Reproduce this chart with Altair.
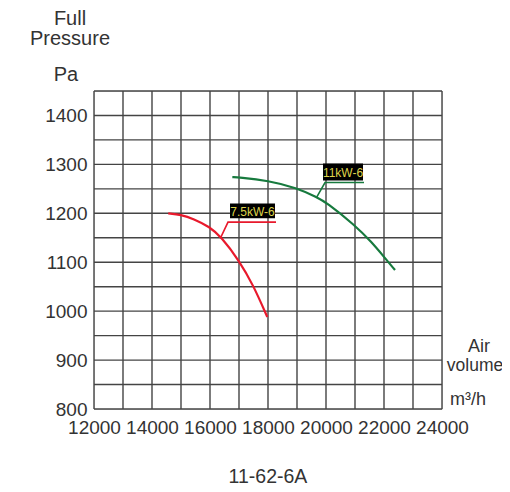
import altair as alt
import pandas as pd

# Curves
red_x = [14560, 15000, 15425, 16000, 16380, 17000, 17494, 17976]
red_y = [1200, 1197, 1189, 1172, 1152, 1104, 1053, 988]
green_x = [16770, 17000, 18000, 19000, 19680, 20000, 21000, 21575, 22000, 22380]
green_y = [1274, 1273.5, 1267, 1252, 1233, 1223, 1175.5, 1141, 1111, 1084]

# Label boxes
label_text = ["7.5kW-6", "11kW-6"]
label_x1 = [16690, 19897]
label_x2 = [18241, 21276]
label_y1 = [1190, 1267]
label_y2 = [1220, 1302]
# Leader lines (start on curve, knee, end of underline)
red_leader_x = [16380, 16621, 18276]
red_leader_y = [1152, 1182, 1182]
green_leader_x = [19680, 19966, 21310]
green_leader_y = [1233, 1263, 1263]

x_grid = list(range(12000, 24001, 1000))
y_grid = list(range(800, 1451, 50))
x_labels = list(range(12000, 24001, 2000))
y_labels = list(range(800, 1401, 100))

RED = "#e8192c"
GREEN = "#177a3e"
GRID = "#444444"
FONT = "Liberation Sans"
TXT = "#333333"

curves = pd.DataFrame(
    [{"x": a, "y": b, "s": "7.5kW-6", "o": i} for i, (a, b) in enumerate(zip(red_x, red_y))]
    + [{"x": a, "y": b, "s": "11kW-6", "o": i} for i, (a, b) in enumerate(zip(green_x, green_y))]
)
leaders = pd.DataFrame(
    [{"x": a, "y": b, "s": "7.5kW-6", "o": i} for i, (a, b) in enumerate(zip(red_leader_x, red_leader_y))]
    + [{"x": a, "y": b, "s": "11kW-6", "o": i} for i, (a, b) in enumerate(zip(green_leader_x, green_leader_y))]
)
boxes = pd.DataFrame({
    "t": label_text, "x1": label_x1, "x2": label_x2, "y1": label_y1, "y2": label_y2,
    "xc": [(a + b) / 2 for a, b in zip(label_x1, label_x2)],
    "yc": [(a + b) / 2 for a, b in zip(label_y1, label_y2)],
})

xscale = alt.Scale(domain=[12000, 24000], nice=False, zero=False)
yscale = alt.Scale(domain=[800, 1450], nice=False, zero=False)

xaxis = alt.Axis(values=x_labels, format="d", title=None, grid=False,
                 ticks=False, domain=False, labelFont=FONT, labelFontSize=19,
                 labelColor=TXT, labelPadding=9, labelOverlap=False, labelFlush=False)
yaxis = alt.Axis(values=y_labels, format="d", title=None, grid=False,
                 ticks=False, domain=False, labelFont=FONT, labelFontSize=19,
                 labelColor=TXT, labelPadding=7, labelOverlap=False)

vgrid = alt.Chart(pd.DataFrame({"x": x_grid})).mark_rule(color=GRID, strokeWidth=1.4).encode(
    x=alt.X("x:Q", scale=xscale, axis=xaxis)
)
hgrid = alt.Chart(pd.DataFrame({"y": y_grid})).mark_rule(color=GRID, strokeWidth=1.4).encode(
    y=alt.Y("y:Q", scale=yscale, axis=yaxis)
)

color_scale = alt.Scale(domain=["7.5kW-6", "11kW-6"], range=[RED, GREEN])

lines = alt.Chart(curves).mark_line(strokeWidth=2.2, interpolate="basis").encode(
    x=alt.X("x:Q", scale=xscale),
    y=alt.Y("y:Q", scale=yscale),
    color=alt.Color("s:N", scale=color_scale, legend=None),
    order="o:Q",
)

leader_lines = alt.Chart(leaders).mark_line(strokeWidth=1.6).encode(
    x="x:Q", y="y:Q",
    color=alt.Color("s:N", scale=color_scale, legend=None),
    order="o:Q",
)

rects = alt.Chart(boxes).mark_rect(color="black").encode(
    x="x1:Q", x2="x2:Q", y="y1:Q", y2="y2:Q"
)
rect_text = alt.Chart(boxes).mark_text(
    font=FONT, fontSize=12, color="#ddd34a", baseline="middle", align="center", dy=1
).encode(x="xc:Q", y="yc:Q", text="t:N")

annot = pd.DataFrame({
    "t": ["Full", "Pressure", "Pa", "Air", "volume", "m³/h", "11-62-6A"],
    "px": [-24, -24, -28, 385, 381, 374, 174],
    "py": [-72, -52, -16, 256, 275, 309, 386],
    "fs": [20, 20, 20, 18, 17.5, 18, 19.5],
})
annots = []
for _, r in annot.iterrows():
    annots.append(
        alt.Chart(pd.DataFrame({"t": [r["t"]]})).mark_text(
            font=FONT, fontSize=float(r["fs"]),
            color=TXT, align="center", baseline="middle"
        ).encode(x=alt.value(float(r["px"])), y=alt.value(float(r["py"])), text="t:N")
    )

chart = alt.layer(vgrid, hgrid, lines, leader_lines, rects, rect_text, *annots).properties(
    width=348, height=318,
    autosize=alt.AutoSizeParams(type="none"),
    padding={"left": 86, "top": 83, "right": 60, "bottom": 78},
).configure_view(stroke=None).configure(background="white")

chart.save("out.html", embed_options={"renderer": "svg", "actions": False})
